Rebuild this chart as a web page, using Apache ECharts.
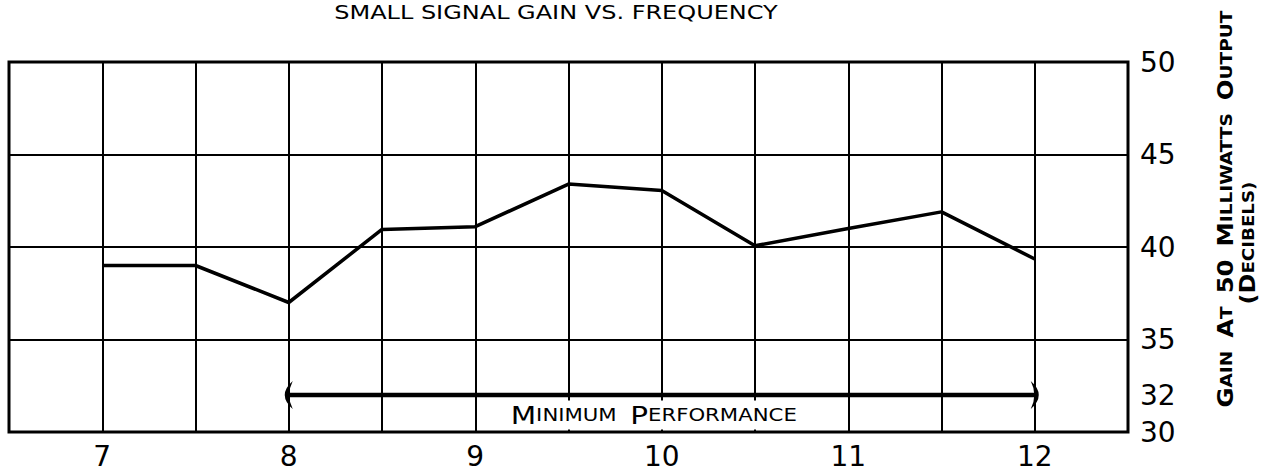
<!DOCTYPE html>
<html><head><meta charset="utf-8">
<script src="https://cdn.jsdelivr.net/npm/echarts@6/dist/echarts.min.js"></script>
<style>html,body{margin:0;padding:0;background:#fff}#c{width:1268px;height:474px}</style>
</head><body><div id="c"></div>
<script>
// ---- data ----
const frequency = [7, 7.5, 8, 8.5, 9, 9.5, 10, 10.5, 11, 11.5, 12];
const gainDb = [39.0, 39.0, 37.0, 40.95, 41.1, 43.4, 43.05, 40.07, 41.0, 41.9, 39.35];
const xTickLabels = [7, 8, 9, 10, 11, 12];
const yTickLabels = [30, 32, 35, 40, 45, 50];
const minPerfRange = [8, 12];
const minPerfGain = 32;
const titleText = 'SMALL SIGNAL GAIN VS. FREQUENCY';
const yTitle = 'GAIN AT 50 MILLIWATTS OUTPUT';
const yUnit = '(DECIBELS)';
const minPerfText = 'MINIMUM PERFORMANCE';

const FONT = 'DejaVu Sans';
function smallCaps(s) {
  return s.split(' ').map(w => {
    if (/^[0-9]+$/.test(w)) return '{b|' + w + '}';
    const m = w.match(/^([^A-Z0-9]*)([A-Z0-9])(.*)$/);
    if (!m) return '{s|' + w + '}';
    let out = '';
    if (m[1]) out += '{b|' + m[1] + '}';
    out += '{b|' + m[2] + '}';
    if (m[3]) out += '{s|' + m[3] + '}';
    return out;
  }).join('{s|  }');
}

const chart = echarts.init(document.getElementById('c'), null, {renderer: 'svg'});
const option = {
  backgroundColor: '#fff',
  animation: false,
  grid: {left: 9, right: 140, top: 62, bottom: 42, show: true, borderColor: '#000', borderWidth: 3, containLabel: false},
  xAxis: {
    type: 'value', min: 6.5, max: 12.5, interval: 0.5,
    axisLine: {show: false}, axisTick: {show: false},
    splitLine: {show: true, lineStyle: {color: '#000', width: 2}},
    axisLabel: {margin: 10, fontSize: 28, fontFamily: FONT, color: '#000',
      formatter: v => xTickLabels.indexOf(v) >= 0 ? String(v) : ''}
  },
  yAxis: [
    {type: 'value', min: 30, max: 50, interval: 5, position: 'right',
     axisLine: {show: false}, axisTick: {show: false}, axisLabel: {show: false},
     splitLine: {show: true, lineStyle: {color: '#000', width: 2}}},
    {type: 'value', min: 30, max: 50, interval: 1, position: 'right',
     axisLine: {show: false}, axisTick: {show: false}, splitLine: {show: false},
     axisLabel: {margin: 12, fontSize: 28, fontFamily: FONT, color: '#000',
       formatter: v => yTickLabels.indexOf(v) >= 0 ? String(v) : ''}}
  ],
  series: [
    {type: 'line', yAxisIndex: 0, symbol: 'none', data: frequency.map((f, i) => [f, gainDb[i]]),
     lineStyle: {color: '#000', width: 3.5}, z: 5},
    {type: 'line', yAxisIndex: 0, symbolSize: [8, 28], itemStyle: {color: '#000'},
     lineStyle: {color: '#000', width: 4.5}, z: 6,
     data: [
       {value: [minPerfRange[0], minPerfGain], symbol: 'path://M8 0 Q-1 14 8 28 Q4 14 8 0 Z'},
       {value: [minPerfRange[1], minPerfGain], symbol: 'path://M0 0 Q9 14 0 28 Q4 14 0 0 Z'}
     ]}
  ]
};
chart.setOption(option);

// text placed from the chart's own scales
const mid = chart.convertToPixel({xAxisIndex: 0, yAxisIndex: 0}, [(minPerfRange[0] + minPerfRange[1]) / 2, minPerfGain]);
const bottomY = chart.convertToPixel({yAxisIndex: 0}, 30);
chart.setOption({
  graphic: [
    {type: 'text', x: 556, y: 12, scaleX: 1.2, z: 10,
     style: {text: titleText, fontSize: 20, fontFamily: FONT, fill: '#000', align: 'center', verticalAlign: 'middle'}},
    {type: 'text', x: 1226, y: 209, rotation: Math.PI / 2, scaleX: 1.16, z: 10,
     style: {text: smallCaps(yTitle), fill: '#000', align: 'center', verticalAlign: 'middle',
       rich: {b: {fontSize: 21, fontFamily: FONT, fontWeight: 'bold'}, s: {fontSize: 16, fontFamily: FONT, fontWeight: 'bold'}}}},
    {type: 'text', x: 1248, y: 243, rotation: Math.PI / 2, scaleX: 1.14, z: 10,
     style: {text: smallCaps(yUnit), fill: '#000', align: 'center', verticalAlign: 'middle',
       rich: {b: {fontSize: 21, fontFamily: FONT, fontWeight: 'bold'}, s: {fontSize: 16, fontFamily: FONT, fontWeight: 'bold'}}}},
    {type: 'text', x: mid[0] - 8, y: (mid[1] + bottomY) / 2 + 1.5, scaleX: 1.18, z: 4,
     style: {text: smallCaps(minPerfText), fill: '#000', align: 'center', verticalAlign: 'middle',
       backgroundColor: '#fff', padding: [2, 14, 2, 14],
       rich: {b: {fontSize: 25, fontFamily: FONT}, s: {fontSize: 18, fontFamily: FONT}}}}
  ]
});
</script></body></html>
